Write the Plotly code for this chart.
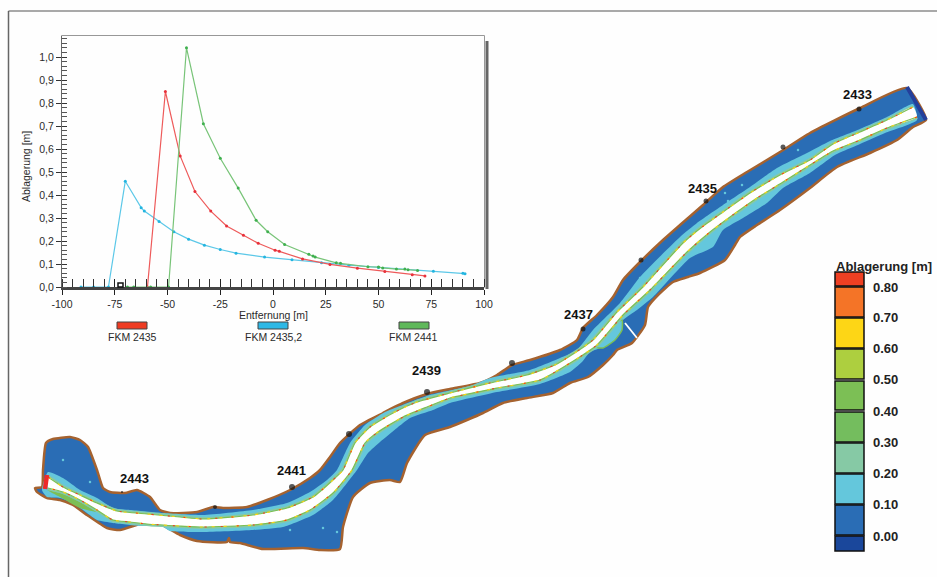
import plotly.graph_objects as go

# ---- inset chart data
red_x = [-59.5, -51, -44, -37, -29.5, -22, -14, -7, 1, 3, 14, 27, 40, 53, 66, 72]
red_y = [0, 0.85, 0.57, 0.415, 0.33, 0.265, 0.225, 0.19, 0.16, 0.155, 0.122, 0.098, 0.082, 0.067, 0.053, 0.048]
blue_x = [-91, -85, -78, -70, -62.5, -61, -54, -47, -40, -32.5, -25, -17.5, -4, 9, 23, 36, 50, 76, 90, 91]
blue_y = [0, 0, 0, 0.46, 0.345, 0.33, 0.285, 0.24, 0.208, 0.182, 0.163, 0.147, 0.13, 0.118, 0.105, 0.095, 0.085, 0.068, 0.06, 0.058]
green_x = [-69, -66, -58, -49.5, -41, -33, -25, -16.5, -8, -2.5, 5.5, 17, 19, 20, 30, 32, 45, 50, 52, 58.5, 62.5, 64, 68.5]
green_y = [0, 0, 0, 0, 1.04, 0.71, 0.56, 0.43, 0.29, 0.24, 0.185, 0.142, 0.135, 0.13, 0.105, 0.103, 0.088, 0.087, 0.083, 0.078, 0.078, 0.075, 0.072]
line_colors = ["#ee5a5a", "#5cc8e8", "#78c478"]
marker_colors = ["#e8303a", "#23b5e0", "#3fb04f"]
legend_names = ["FKM 2435", "FKM 2435,2", "FKM 2441"]
legend_swatch_x = [117, 258, 399]
legend_text_x = [132, 273, 413]
swatch_colors = ["#ee3b22", "#2db8e6", "#5fb85a"]
x_ticks = [-100, -75, -50, -25, 0, 25, 50, 75, 100]
y_ticks = [0, 0.1, 0.2, 0.3, 0.4, 0.5, 0.6, 0.7, 0.8, 0.9, 1.0]
y_tick_text = ["0,0","0,1","0,2","0,3","0,4","0,5","0,6","0,7","0,8","0,9","1,0"]

# ---- map geometry, read in picture pixels
bank_upper = [(35,488),(42,487),(43,470),(46,443),(53,439),(70,437),(80,440),(88,447),(97,470),(103,488),(110,492),
 (125,493),(137,490),(150,497),(160,510),(170,513),(197,512),(213,507),(223,508),(247,507),(267,500),
 (290,490),(310,478),(320,470),(330,457),(340,443),(360,425),(383,413),(403,403),(427,394),(450,389),(480,383),(497,375),(512,365),
 (530,360),(560,350),(577,340),(583,328),(597,315),(613,297),(623,280),(640,262),(663,240),(680,225),(703,205),(723,187),(747,172),
 (780,152),(810,133),(860,108),(907,88)]
bank_lower = [(926,120),(913,127),(897,140),(870,153),(837,167),(810,188),(780,210),(757,225),(740,237),(735,245),(725,260),(700,273),
 (688,277),(673,282),(658,295),(648,307),(645,325),(632,343),(617,350),(613,355),(603,365),(588,377),(570,383),(553,393),(527,398),(503,403),
 (483,413),(467,420),(450,427),(425,435),(407,463),(400,482),(390,480),(370,483),(353,497),(343,527),(340,549),
 (320,550),(303,548),(263,549),(240,543),(230,542),(229,538),(227,542),(197,541),(180,535),(158,523),(143,523),(120,530),
 (107,528),(87,515),(73,505),(60,500),(47,498),(37,492)]
chan_upper = [(48,477),(63,487),(80,495),(97,503),(117,511),(147,514),(180,517),(203,519),(253,515),(287,508),(313,497),(333,480),(343,470),
 (355,443),(370,427),(395,412),(417,402),(450,393),(490,383),(527,375),(555,365),(570,356),(593,340),(617,312),(643,287),(683,243),
 (702,227),(723,212),(750,193),(780,175),(810,160),(833,144),(860,132),(887,120),(913,107)]
chan_lower = [(917,117),(887,128),(860,140),(833,151),(810,165),(783,182),(757,198),(730,217),(710,232),(687,252),(650,290),(623,315),
 (597,345),(575,360),(540,380),(497,388),(450,398),(427,407),(403,417),(378,432),(365,443),(352,470),(333,493),(310,510),
 (287,520),(253,525),(203,527),(180,526),(147,524),(130,522),(113,520),(97,510),(80,500),(63,492),(48,488)]
band_top = [(48,472),(63,478),(80,490),(97,498),(113,508),(130,510),(163,513),(203,515),(253,510),(287,503),(310,492),(327,480),(337,470),
 (350,443),(365,425),(385,412),(400,406),(430,395),(470,386),(490,378),(530,370),(560,358),(577,350),(593,330),(620,303),(640,277),(680,237),
 (697,223),(723,205),(750,187),(777,168),(807,153),(830,141),(860,129),(887,117),(913,104)]
band_bot = [(917,120),(885,133),(860,144),(835,155),(810,173),(783,188),(767,203),(743,218),(723,230),(713,247),(690,258),(653,297),(637,310),(623,320),
 (600,348),(590,352),(582,362),(570,372),(540,384),(497,392),(450,403),(433,410),(410,418),(397,428),(380,442),(368,453),(357,470),(333,500),(313,515),
 (283,527),(253,530),(203,532),(170,531),(163,527),(140,526),(113,523),(97,520),(87,513),(73,503),(60,498),(47,497),(42,490)]
island = [(622,320),(622,330),(615,340),(603,348),(595,347),(602,337),(613,325)]
green_patch = [(47,490),(63,494),(80,502),(97,512),(80,508),(60,497)]
white_strip = [(625,323),(637,338)]
end_line = [(907,87),(926,120)]
red_end = [(47,475),(45,489)]
station_pts = [(859,109),(783,147),(706,201),(641,260),(583,329),(512,363),(427,392),(349,434),(292,487),(215,507),(122,492)]
station_size = [5, 5, 5, 5, 5, 6, 6, 6, 6, 4, 2]
specks = [(63,460),(90,482),(290,530),(337,532),(323,528),(742,185),(725,193),(728,201),(798,150),(640,278)]
labels = ["2433", "2435", "2437", "2439", "2441", "2443"]
label_pos = [(857,94),(702,188),(578,314),(426,370),(291,470),(134,478)]

# ---- colour legend
class_colors = ["#ee4023", "#f47427", "#fdd616", "#adcf3f", "#7cbf55", "#74bd5e", "#86c9a5", "#64c7dc", "#2a6db5", "#1a479b"]
class_edges = [(272,286),(287,317),(318,348),(349,379),(381,410),(412,442),(443,473),(474,504),(505,535),(536,551)]
class_labels = ["0.80", "0.70", "0.60", "0.50", "0.40", "0.30", "0.20", "0.10", "0.00"]
class_label_y = [287, 317, 348, 379, 411, 442, 473, 504, 536]

W, H = 937, 577
fig = go.Figure()

def xs(p): return [a for a, _ in p]
def ys(p): return [b for _, b in p]
def poly(p, fill, line=None, lw=0):
    fig.add_trace(go.Scatter(x=xs(p)+[p[0][0]], y=ys(p)+[p[0][1]], mode="lines", fill="toself", fillcolor=fill,
                             line=dict(color=line or fill, width=lw, shape="spline", smoothing=0.5), hoverinfo="skip", showlegend=False))
def path(p, color, w, dash="solid"):
    fig.add_trace(go.Scatter(x=xs(p), y=ys(p), mode="lines", line=dict(color=color, width=w, dash=dash, shape="spline", smoothing=0.5),
                             hoverinfo="skip", showlegend=False))

poly(bank_upper + bank_lower, "#2a6db5", "#a5622f", 2.5)
poly(band_top + band_bot, "#64c7dc")
poly(island, "#64c7dc", "#7cbf55", 1.5)
poly(green_patch, "#7cbf55")
for edge in (chan_upper, chan_lower):
    path(edge, "#86c9a5", 4)
poly(chan_upper + chan_lower, "#ffffff")
for edge in (chan_upper, chan_lower):
    path(edge, "#7cbf55", 1.2)
    path(edge, "#fdd616", 1.1, "3px,9px")
    path(edge, "#ee4023", 1.1, "2px,14px")
path(white_strip, "#ffffff", 1.8)
path(end_line, "#243f9b", 4)
path(red_end, "#ee2a2a", 4.5)
fig.add_trace(go.Scatter(x=xs(specks), y=ys(specks), mode="markers", marker=dict(color="#64c7dc", size=2.5),
                         hoverinfo="skip", showlegend=False))
fig.add_trace(go.Scatter(x=xs(station_pts), y=ys(station_pts), mode="markers", marker=dict(color="#111111", size=station_size, line=dict(width=0)),
                         hoverinfo="skip", showlegend=False))
for t, (x, y) in zip(labels, label_pos):
    fig.add_annotation(x=x, y=y, text=f"<b>{t}</b>", showarrow=False, font=dict(size=13, family="Liberation Sans", color="#111111"))

# inset background + lines
fig.add_shape(type="rect", xref="x", yref="y", x0=62, x1=484, y0=36, y1=287, fillcolor="#ffffff", line=dict(color="#777777", width=1.5), layer="below")
fig.add_shape(type="line", xref="x", yref="y", x0=487, x1=487, y0=41, y1=289, line=dict(color="#666666", width=3))
fig.add_shape(type="rect", xref="x", yref="y", x0=118, x1=123, y0=283, y1=287, fillcolor="#ffffff", line=dict(color="#111111", width=1.5))
series = [(red_x, red_y, "x2", "y3"), (blue_x, blue_y, "x2", "y2"), (green_x, green_y, "x3", "y2")]
for (x, y, xa, ya), c, m in zip(series, line_colors, marker_colors):
    fig.add_trace(go.Scatter(x=x, y=y, xaxis=xa, yaxis=ya, mode="lines+markers", line=dict(color=c, width=1.2),
                             marker=dict(color=m, size=3), showlegend=False, cliponaxis=False))

axfont = dict(size=10.5, family="Liberation Sans", color="#2a2a2a")
# inset legend
for sx, tx, c, n in zip(legend_swatch_x, legend_text_x, swatch_colors, legend_names):
    fig.add_shape(type="rect", xref="x", yref="y", x0=sx, x1=sx+30, y0=322, y1=329, fillcolor=c, line=dict(color="#444444", width=1))
    fig.add_annotation(x=tx, y=337, text=n, showarrow=False, font=axfont)
fig.add_annotation(x=273, y=315, text="Entfernung [m]", showarrow=False, font=axfont)
fig.add_annotation(x=26, y=167, text="Ablagerung [m]", showarrow=False, textangle=-90, font=axfont)

# colour legend
for c, (a, b) in zip(class_colors, class_edges):
    fig.add_shape(type="rect", xref="x", yref="y", x0=835, x1=864, y0=a, y1=b, fillcolor=c, line=dict(color="#111111", width=1.5))
for t, y in zip(class_labels, class_label_y):
    fig.add_annotation(x=885, y=y, text=f"<b>{t}</b>", showarrow=False, font=dict(size=13, family="Liberation Sans", color="#222222"))
fig.add_annotation(x=884, y=266, text="<b>Ablagerung [m]</b>", showarrow=False, font=dict(size=13, family="Liberation Sans", color="#222222"))

# frame
fig.add_shape(type="line", xref="x", yref="y", x0=8.5, x1=8.5, y0=11, y1=577, line=dict(color="#666666", width=1.5))
fig.add_shape(type="line", xref="x", yref="y", x0=8.5, x1=937, y0=11, y1=11, line=dict(color="#555555", width=1.2))

xdom = [62/W, 484/W]
ydom = [1-287/H, 1-36/H]
xr = [-100, 100]
yr = [0, 251/230]
fig.update_layout(
    width=W, height=H, margin=dict(l=0, r=0, t=0, b=0), paper_bgcolor="#fefefe", plot_bgcolor="#fefefe", showlegend=False,
    xaxis=dict(range=[0, W], domain=[0, 1], visible=False, fixedrange=True),
    yaxis=dict(range=[H, 0], domain=[0, 1], visible=False, fixedrange=True),
    xaxis2=dict(domain=xdom, anchor="y2", range=xr, tickvals=x_ticks, ticktext=[str(v) for v in x_ticks], ticks="outside", ticklen=5,
                tickcolor="#222222", showgrid=False, zeroline=False, showline=True, linecolor="#444444", linewidth=3, tickfont=axfont,
                minor=dict(dtick=5, ticks="inside", ticklen=8, tickcolor="#333333"), automargin=False),
    xaxis3=dict(domain=xdom, anchor="y2", overlaying="x2", range=xr, tickvals=x_ticks, ticks="inside", ticklen=8, tickcolor="#222222",
                showticklabels=False, showgrid=False, zeroline=False, showline=False, automargin=False),
    yaxis2=dict(domain=ydom, anchor="x2", range=yr, tickvals=y_ticks, ticktext=y_tick_text, ticks="outside", ticklen=5, tickcolor="#333333",
                showgrid=False, zeroline=False, showline=True, linecolor="#666666", tickfont=axfont,
                minor=dict(dtick=0.02, ticks="inside", ticklen=5, tickcolor="#555555"), automargin=False),
    yaxis3=dict(domain=ydom, anchor="x2", overlaying="y2", range=yr, tickvals=y_ticks, ticks="inside", ticklen=5, tickcolor="#333333",
                showticklabels=False, showgrid=False, zeroline=False, showline=False, automargin=False),
)
fig.write_html("out.html", config={"displayModeBar": False}, post_script="document.body.style.margin='0';")
